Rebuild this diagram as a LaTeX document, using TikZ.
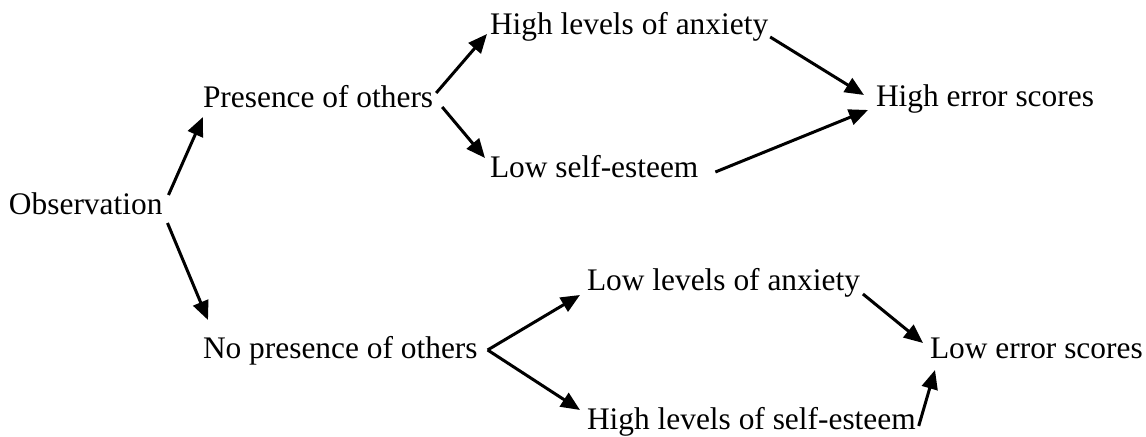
\documentclass[tikz,border=0pt]{standalone}
\usepackage{fontspec}
\setmainfont{Liberation Serif}
\usetikzlibrary{arrows.meta,calc}
\tikzset{
  lbl/.style={inner sep=0pt, outer sep=0pt, anchor=base west, font=\fontsize{15.7}{18}\selectfont},
  conn/.style={line width=1.5pt, -{Triangle[length=9.5pt,width=8pt]}}
}
\begin{document}
\begin{tikzpicture}[x=0.5pt,y=-0.5pt]
\useasboundingbox (0,0) rectangle (1146,437);
\node[lbl] (obs) at (9,215) {Observation};
\node[lbl] (pres) at (203,108) {Presence of others};
\node[lbl] (hanx) at (490,35) {High levels of anxiety};
\node[lbl] (lself) at (490,178) {Low self-esteem};
\node[lbl] (herr) at (876,107) {High error scores};
\node[lbl] (nopres) at (203,359) {No presence of others};
\node[lbl] (lanx) at (587,291) {Low levels of anxiety};
\node[lbl] (hself) at (587,430) {High levels of self-esteem};
\node[lbl] (lerr) at (930,359) {Low error scores};

\draw[conn] ($(obs.base east)+(6,-20)$) -- ($(pres.base west)+(0,9)$);
\draw[conn] ($(obs.base east)+(5,8)$) -- ($(nopres.base west)+(5,-39)$);
\draw[conn] ($(pres.base east)+(3,-15)$) -- ($(hanx.base west)+(-3,-1)$);
\draw[conn] ($(pres.base east)+(9,-1)$) -- ($(lself.base west)+(-5,-20)$);
\draw[conn] ($(hanx.base east)+(2,2)$) -- ($(herr.base west)+(-12,-12)$);
\draw[conn] ($(lself.base east)+(17,-6)$) -- ($(herr.base west)+(-8,3)$);
\draw[conn] ($(nopres.base east)+(10,-9)$) -- ($(lanx.base west)+(-7,4)$);
\draw[conn] ($(nopres.base east)+(10,-9)$) -- ($(hself.base west)+(-7,-20)$);
\draw[conn] ($(lanx.base east)+(3,3)$) -- ($(lerr.base west)+(-7,-16)$);
\draw[conn] ($(hself.base east)+(3,-4)$) -- ($(lerr.base west)+(5,11)$);
\end{tikzpicture}
\end{document}
